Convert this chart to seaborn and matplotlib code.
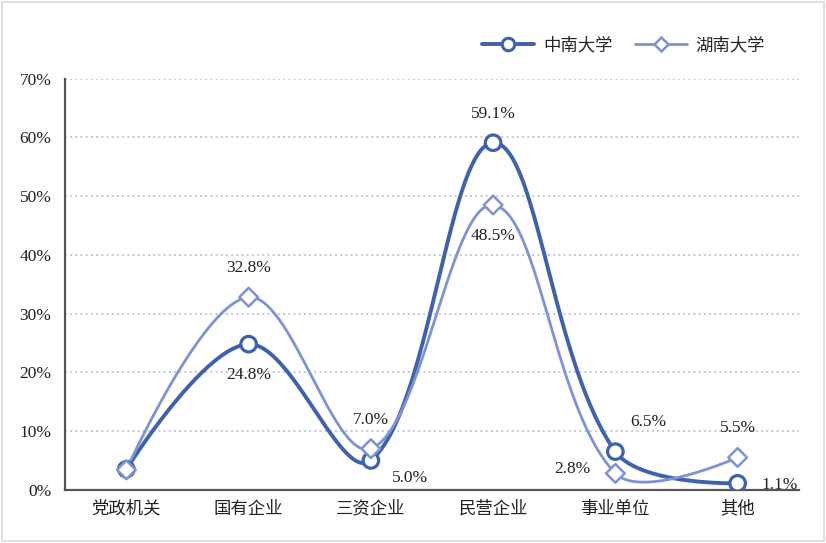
import matplotlib.pyplot as plt
import numpy as np
import pandas as pd
import seaborn as sns
from matplotlib.lines import Line2D
from matplotlib.patches import Rectangle

categories = ["党政机关", "国有企业", "三资企业", "民营企业", "事业单位", "其他"]
csu = [3.5, 24.8, 5.0, 59.1, 6.5, 1.1]
hnu = [3.4, 32.8, 7.0, 48.5, 2.8, 5.5]
series_names = ["中南大学", "湖南大学"]
yticks = [0, 10, 20, 30, 40, 50, 60, 70]

# label offsets in points (dx, dy) for each value, None = no label
csu_offsets = [None, (0, -22), (28, -13), (0, 21), (24, 21), (30, -1)]
hnu_offsets = [None, (0, 21), (0, 21), (0, -22), (-31, 3), (0, 21)]

dark = "#3F62AE"
light = "#7D93D4"


def smooth(y, xscale=122.0, yscale=5.87, tension=0.36, n=50):
    """Excel-like smoothed line: bezier segments, control arms scaled by segment length."""
    y = np.asarray(y, dtype=float)
    x = np.arange(len(y), dtype=float)
    P = np.column_stack([x * xscale, y * yscale])
    m = len(P)
    c_in = P.copy()
    c_out = P.copy()
    for i in range(1, m - 1):
        d0 = np.linalg.norm(P[i] - P[i - 1])
        d1 = np.linalg.norm(P[i + 1] - P[i])
        chord = P[i + 1] - P[i - 1]
        c_in[i] = P[i] - tension * d0 / (d0 + d1) * chord
        c_out[i] = P[i] + tension * d1 / (d0 + d1) * chord
    # end points: control arm of zero length
    t = np.linspace(0, 1, n)[:, None]
    pts = []
    for i in range(m - 1):
        seg = ((1 - t) ** 3 * P[i] + 3 * (1 - t) ** 2 * t * c_out[i]
               + 3 * (1 - t) * t ** 2 * c_in[i + 1] + t ** 3 * P[i + 1])
        pts.append(seg)
    pts = np.vstack(pts)
    return pts[:, 0] / xscale, pts[:, 1] / yscale


sns.set_theme(style="white")
plt.rcParams["font.family"] = ["Liberation Serif", "Noto Sans CJK SC"]

df = pd.DataFrame({
    "pos": list(range(len(categories))) * 2,
    "val": csu + hnu,
    "school": [series_names[0]] * len(csu) + [series_names[1]] * len(hnu),
})

fig = plt.figure(figsize=(8.26, 5.43), dpi=100)
ax = fig.add_axes([0.079, 0.098, 0.888, 0.757])

for vals, col, lw in [(csu, dark, 2.8), (hnu, light, 2.0)]:
    sx, sy = smooth(vals)
    ax.plot(sx, sy, color=col, lw=lw, zorder=3, solid_capstyle="round")

sns.scatterplot(data=df, x="pos", y="val", hue="school", style="school",
                markers={series_names[0]: "o", series_names[1]: "D"},
                palette={series_names[0]: dark, series_names[1]: light},
                s=120, ax=ax, zorder=4, legend=False)
coll = ax.collections[0]
is_csu = df["school"] == series_names[0]
coll.set_facecolor("white")
coll.set_edgecolor([dark if c else light for c in is_csu])
coll.set_linewidths([2.3 if c else 1.8 for c in is_csu])
coll.set_sizes([125 if c else 90 for c in is_csu])

for vals, offs in [(csu, csu_offsets), (hnu, hnu_offsets)]:
    for i, (v, o) in enumerate(zip(vals, offs)):
        if o is None:
            continue
        ax.annotate(f"{v:.1f}%", (i, v), xytext=o, textcoords="offset points",
                    ha="center", va="center", fontsize=12.5, color="#222222",
                    family="Liberation Serif", zorder=5)

ax.set_xlim(-0.5, len(categories) - 0.5)
ax.set_ylim(0, 70)
ax.set_yticks(yticks)
ax.set_yticklabels([f"{t}%" for t in yticks], fontsize=12.5, family="Liberation Serif")
ax.set_xticks(range(len(categories)))
ax.set_xticklabels(categories, fontsize=12.5, family="Noto Sans CJK SC")
ax.tick_params(axis="x", pad=7, length=0, colors="#222222")
ax.tick_params(axis="y", pad=10, length=0, colors="#222222")
ax.set_xlabel("")
ax.set_ylabel("")
for t in yticks[1:]:
    ax.axhline(t, color="#A9B6DD", lw=1.1, ls=(0, (1.2, 2.2)), zorder=1)
for side in ["top", "right"]:
    ax.spines[side].set_visible(False)
for side in ["left", "bottom"]:
    ax.spines[side].set_color("#555555")
    ax.spines[side].set_linewidth(1.6)

handles = [
    Line2D([], [], color=dark, lw=2.8, marker="o", markersize=9,
           markerfacecolor="white", markeredgewidth=2.2, markeredgecolor=dark),
    Line2D([], [], color=light, lw=2.0, marker="D", markersize=7,
           markerfacecolor="white", markeredgewidth=1.8, markeredgecolor=light),
]
fig.legend(handles, series_names, loc="center", bbox_to_anchor=(0.755, 0.917),
           ncol=2, frameon=False, handlelength=3.0, columnspacing=1.3,
           handletextpad=0.5, prop={"family": "Noto Sans CJK SC", "size": 12.5})

fig.patches.append(Rectangle((0.002, 0.003), 0.996, 0.994, transform=fig.transFigure,
                             fill=False, edgecolor="#D9D9D9", lw=1.2))

fig.savefig("out.png", dpi=100)
